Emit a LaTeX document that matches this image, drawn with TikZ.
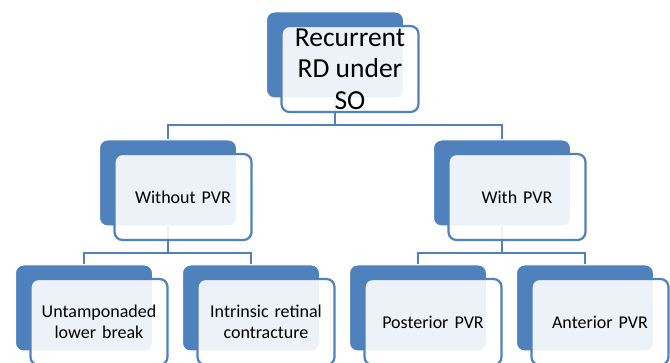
\documentclass[tikz,border=0pt]{standalone}
\usepackage{fontspec}
\setmainfont{Carlito}
\definecolor{accent}{HTML}{4F81BD}

\begin{document}
\begin{tikzpicture}[
		x=1pt, y=-1pt,
		back/.style={rectangle, rounded corners=8pt, fill=accent, draw=white, line width=1pt,
			minimum width=137pt, minimum height=86pt, inner sep=0pt},
		front/.style={rectangle, rounded corners=8pt, fill=white, fill opacity=0.9, text opacity=1,
			draw=accent, line width=2.2pt, minimum width=137pt, minimum height=86pt, inner sep=0pt,
			text width=128pt, align=center, font=\fontsize{18}{21}\selectfont},
		link/.style={draw=accent, line width=2.4pt}
	]
  \clip (0,0) rectangle (670,363);
  % back boxes
  \node (rd_b) [back] at (335, 55) {};
  \node (wo_b) [back] at (168, 183) {};
  \node (wi_b) [back] at (502, 183) {};
  \node (ul_b) [back] at (84, 308) {};
  \node (ir_b) [back] at (251, 308) {};
  \node (po_b) [back] at (418, 308) {};
  \node (an_b) [back] at (585, 308) {};
  % connectors
  \coordinate (top_bus) at (335, 125);
  \coordinate (wo_bus) at (168, 253);
  \coordinate (wi_bus) at (502, 253);
  \draw [link] (rd_b.south) -- (top_bus) -| (wo_b.north);
  \draw [link] (top_bus) -| (wi_b.north);
  \draw [link] (wo_b.south) -- (wo_bus) -| (ul_b.north);
  \draw [link] (wo_bus) -| (ir_b.north);
  \draw [link] (wi_b.south) -- (wi_bus) -| (po_b.north);
  \draw [link] (wi_bus) -| (an_b.north);
  % front boxes
  \node (rd) [front] at (350, 69) {};
  \node (rd_text) [align=center, font=\fontsize{27.5}{31.5}\selectfont] at (350, 69) {Recurrent\\RD under\\SO};
  \node (wo) [front] at (183, 197) {Without PVR};
  \node (wi) [front] at (517, 197) {With PVR};
  \node (ul) [front] at (99, 322) {Untamponaded\\lower break};
  \node (ir) [front] at (266, 322) {Intrinsic retinal\\contracture};
  \node (po) [front] at (433, 322) {Posterior PVR};
  \node (an) [front] at (600, 322) {Anterior PVR};
\end{tikzpicture}
\end{document}
